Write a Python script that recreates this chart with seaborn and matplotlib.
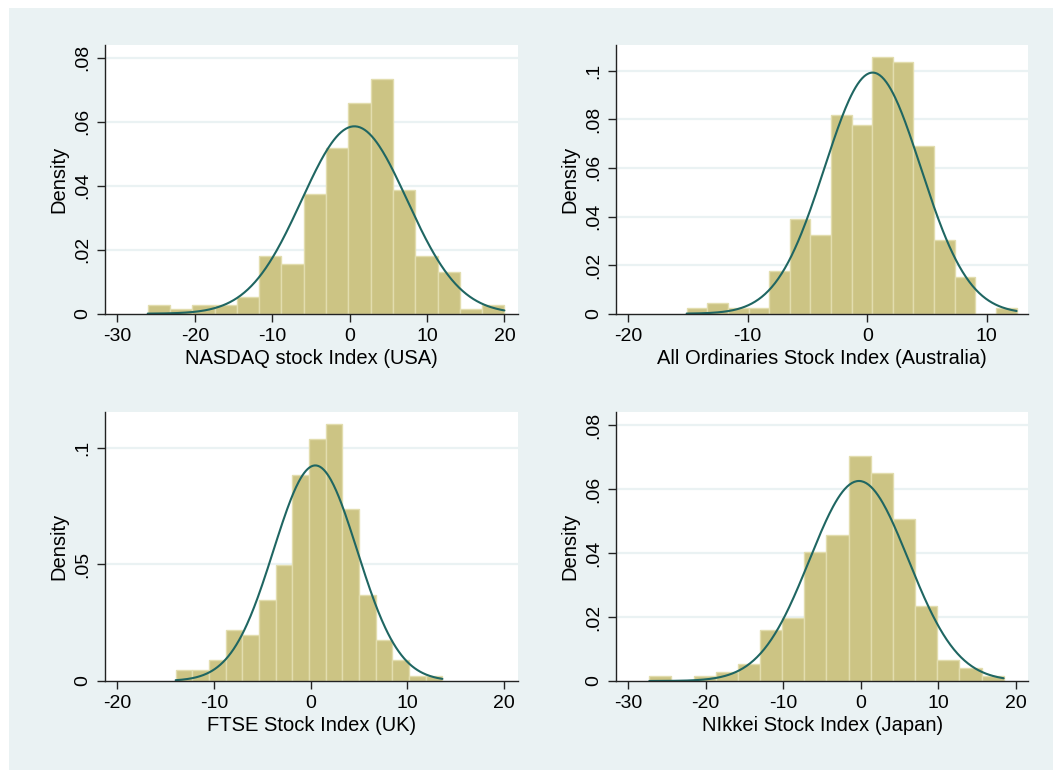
import numpy as np
import pandas as pd
import matplotlib
matplotlib.use("Agg")
import matplotlib.pyplot as plt
import seaborn as sns
from matplotlib.patches import Rectangle

sns.set_theme(style="white")
plt.rcParams['font.family'] = ['Liberation Sans', 'DejaVu Sans']

# ---- data ----
titles = ["NASDAQ stock Index (USA)", "All Ordinaries Stock Index (Australia)",
          "FTSE Stock Index (UK)", "NIkkei Stock Index (Japan)"]

# bin ranges (min, max of data) and bin densities (16 bins each)
nasdaq_range = (-26.08, 20.0)
nasdaq_density = [0.0026, 0.00135, 0.0026, 0.0026, 0.0053, 0.0181, 0.0155, 0.0375,
                  0.0517, 0.0658, 0.0735, 0.0388, 0.0181, 0.0130, 0.00135, 0.0026]
aord_range = (-15.11, 12.49)
aord_density = [0.0025, 0.0045, 0.0025, 0.0025, 0.0176, 0.0390, 0.0325, 0.0819,
                0.0776, 0.1058, 0.1034, 0.0690, 0.0303, 0.0152, 0.0, 0.0025]
ftse_range = (-13.95, 13.61)
ftse_density = [0.0046, 0.0046, 0.0089, 0.0219, 0.0196, 0.0347, 0.0499, 0.0884,
                0.1036, 0.1100, 0.0736, 0.0367, 0.0176, 0.0089, 0.0023, 0.0023]
nikkei_range = (-27.28, 18.46)
nikkei_density = [0.00146, 0.0, 0.00146, 0.0028, 0.0052, 0.0158, 0.0196, 0.0404,
                  0.0456, 0.0702, 0.0651, 0.0508, 0.0235, 0.0067, 0.0040, 0.0015]

# normal-fit parameters (mean, sd)
nasdaq_normal = (0.62, 6.81)
aord_normal = (0.45, 4.02)
ftse_normal = (0.48, 4.32)
nikkei_normal = (-0.22, 6.38)

# axis ticks
nasdaq_xticks = [-30, -20, -10, 0, 10, 20]
aord_xticks = [-20, -10, 0, 10]
ftse_xticks = [-20, -10, 0, 10, 20]
nikkei_xticks = [-30, -20, -10, 0, 10, 20]
nasdaq_yticks = [0, 0.02, 0.04, 0.06, 0.08]
aord_yticks = [0, 0.02, 0.04, 0.06, 0.08, 0.1]
ftse_yticks = [0, 0.05, 0.1]
nikkei_yticks = [0, 0.02, 0.04, 0.06, 0.08]
nasdaq_ylabels = ["0", ".02", ".04", ".06", ".08"]
aord_ylabels = ["0", ".02", ".04", ".06", ".08", ".1"]
ftse_ylabels = ["0", ".05", ".1"]
nikkei_ylabels = ["0", ".02", ".04", ".06", ".08"]

panels = [
    (titles[0], nasdaq_range, nasdaq_density, nasdaq_normal, nasdaq_xticks, nasdaq_yticks, nasdaq_ylabels,
     (-31.6, 21.72), 0.084),
    (titles[1], aord_range, aord_density, aord_normal, aord_xticks, aord_yticks, aord_ylabels,
     (-21.02, 13.47), 0.1106),
    (titles[2], ftse_range, ftse_density, ftse_normal, ftse_xticks, ftse_yticks, ftse_ylabels,
     (-21.25, 21.39), 0.1151),
    (titles[3], nikkei_range, nikkei_density, nikkei_normal, nikkei_xticks, nikkei_yticks, nikkei_ylabels,
     (-31.58, 21.64), 0.084),
]

W, H = 1053, 770
BG = "#EAF2F3"
BAR = "#CCC484"
BAR_EDGE = "#E2DDAE"
LINE = "#1F6662"

fig = plt.figure(figsize=(W / 100, H / 100), dpi=100, facecolor="white")
fig.patches.append(Rectangle((9 / W, 0), 1 - 9 / W, 1 - 8 / H, transform=fig.transFigure,
                             facecolor=BG, edgecolor="none", zorder=-10))

boxes = [(105, 517.7, 45, 313.7), (616, 1028.3, 45, 313.7),
         (105, 517.7, 412.3, 681), (616, 1028.3, 412.3, 681)]

for (title, rng, dens, (mu, sd), xt, yt, yl, xlim, ytop), (x0, x1, y0, y1) in zip(panels, boxes):
    ax = fig.add_axes([x0 / W, 1 - y1 / H, (x1 - x0) / W, (y1 - y0) / H])
    ax.set_zorder(1)
    ax.set_facecolor("white")
    edges = np.linspace(rng[0], rng[1], len(dens) + 1)
    centers = (edges[:-1] + edges[1:]) / 2
    df = pd.DataFrame({"x": centers, "w": dens})
    for t in yt[1:]:
        ax.axhline(t, color=BG, lw=1.6, zorder=0.5)
    sns.histplot(data=df, x="x", weights="w", bins=edges.tolist(), stat="count", ax=ax,
                 color=BAR, alpha=1, edgecolor=BAR_EDGE, linewidth=1.0, zorder=2)
    xs = np.linspace(rng[0], rng[1], 300)
    ys = np.exp(-0.5 * ((xs - mu) / sd) ** 2) / (sd * np.sqrt(2 * np.pi))
    sns.lineplot(x=xs, y=ys, ax=ax, color=LINE, lw=1.5, zorder=3)
    ax.set_xlim(*xlim)
    ax.set_ylim(0, ytop)
    ax.set_xticks(xt)
    ax.set_xticklabels([str(v) for v in xt])
    ax.set_yticks(yt)
    ax.set_yticklabels(yl, rotation=90, va="center")
    ax.set_xlabel(title, fontsize=14.5, labelpad=3, color="black")
    ax.set_ylabel("Density", fontsize=14.5, labelpad=4, color="black")
    for s in ["top", "right"]:
        ax.spines[s].set_visible(False)
    for s in ["left", "bottom"]:
        ax.spines[s].set_color("#222222")
        ax.spines[s].set_linewidth(1.0)
        ax.spines[s].set_zorder(4)
    ax.tick_params(axis="both", which="major", direction="out", length=6, width=1,
                   color="#222222", labelsize=14, labelcolor="black", pad=4,
                   bottom=True, left=True)
    ax.grid(False)

fig.savefig("out.png", dpi=100, facecolor="white")
